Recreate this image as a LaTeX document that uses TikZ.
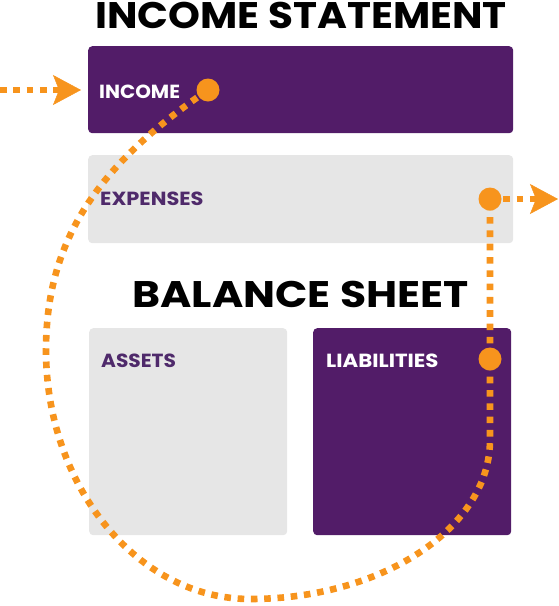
\documentclass[tikz,border=0pt]{standalone}
\usepackage{fontspec}
\setmainfont{Poppins}
\usetikzlibrary{arrows.meta}
\definecolor{plum}{HTML}{521C68}
\definecolor{plumtext}{HTML}{4F2A6B}
\definecolor{boxgray}{HTML}{E6E6E6}
\definecolor{flow}{HTML}{F7941D}
\begin{document}
\begin{tikzpicture}[x=1pt,y=-1pt,
  panel/.style={rectangle, rounded corners=4pt, inner sep=0pt, anchor=north west},
  purplepanel/.style={panel, fill=plum},
  graypanel/.style={panel, fill=boxgray},
  heading/.style={font=\fontsize{37}{37}\selectfont\bfseries, anchor=base, inner sep=0pt},
  lbl/.style={font=\fontsize{19}{19}\selectfont\bfseries, anchor=base west, inner sep=0pt},
  flowline/.style={draw=flow, line width=6.6pt, dash pattern=on 6.6pt off 6.7pt},
  flowdot/.style={circle, fill=flow, minimum size=23pt, inner sep=0pt},
  tipped/.style={-{Stealth[length=28pt,width=30pt,inset=6pt,line width=0.5pt]}},
]
\useasboundingbox (0,0) rectangle (559,606);
% panels
\node[purplepanel, minimum width=425pt, minimum height=87pt] (income) at (88,46) {};
\node[graypanel, minimum width=425pt, minimum height=88pt] (expenses) at (88,155) {};
\node[graypanel, minimum width=198pt, minimum height=207pt] (assets) at (89,328) {};
\node[purplepanel, minimum width=198pt, minimum height=207pt] (liabilities) at (313,328) {};
% headings
\node[heading] (t1) at (301,28) {\scalebox{1.097}[1]{INCOME STATEMENT}};
\node[heading] (t2) at (300.5,307) {\scalebox{1.15}[1]{BALANCE SHEET}};
% labels
\node[lbl, text=white] (l1) at (99,98) {\scalebox{1.05}[1]{INCOME}};
\node[lbl, text=plumtext] (l2) at (100,205) {\scalebox{1.10}[1]{EXPENSES}};
\node[lbl, text=plumtext] (l3) at (101,367) {\scalebox{1.06}[1]{ASSETS}};
\node[lbl, text=white] (l4) at (326,367) {\scalebox{1.12}[1]{LIABILITIES}};
% coordinates
\coordinate (inL) at (0,90);
\coordinate (inTip) at (81,90);
\coordinate (outTip) at (558,199);
\coordinate (bend) at (490,440);
\coordinate (incc) at (208,90);
\coordinate (expc) at (490,199);
\coordinate (liac) at (490,359);
% flow lines
\draw[flowline] (incc) .. controls (98,165) and (46,240) .. (46,350)
  .. controls (46,487) and (138,599) .. (250,599)
  .. controls (382,599) and (490,528) .. (bend) -- (expc);
\draw[flowline, tipped] (inL) -- (inTip);
\draw[flowline, tipped] (expc) -- (outTip);
% dots
\node[flowdot] (incdot) at (incc) {};
\node[flowdot] (expdot) at (expc) {};
\node[flowdot] (liadot) at (liac) {};
\end{tikzpicture}
\end{document}
